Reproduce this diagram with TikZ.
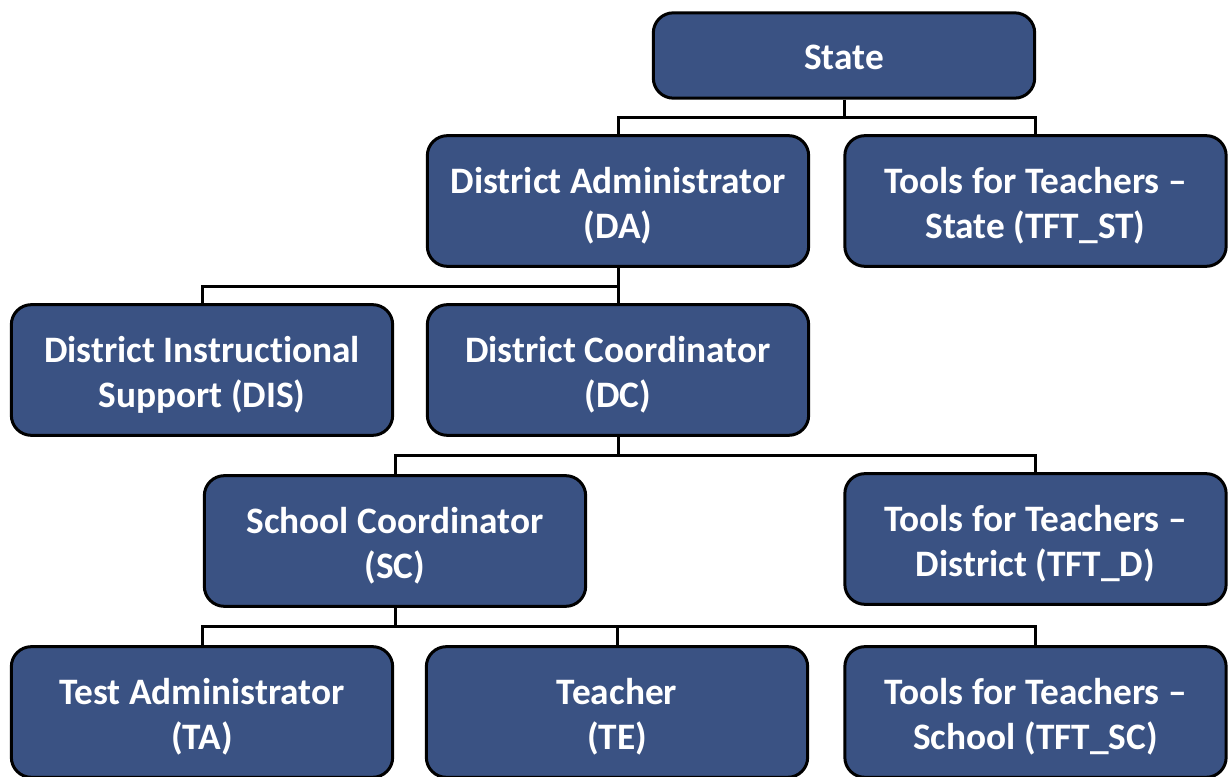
\documentclass[tikz,border=0pt]{standalone}
\usepackage{fontspec}
\setmainfont{Carlito}[Ligatures=NoCommon]
\usetikzlibrary{positioning}

\definecolor{roleblue}{RGB}{58,82,131}

\tikzset{
  rolebox/.style={draw=black, line width=2.25pt, fill=roleblue, rounded corners=15pt,
    minimum width=286pt, minimum height=98pt, align=center, text=white,
    font=\fontsize{28}{33.75}\selectfont\bfseries, inner sep=0pt,
    text height=61pt},
  conn/.style={draw=black, line width=2.25pt}
}

\begin{document}
\begin{tikzpicture}[x=0.75pt,y=0.75pt,yscale=-1,xscale=1]
\useasboundingbox (0,0) rectangle (1228,777);

% Boxes
\node [rolebox, minimum height=64pt, text height=21pt] (state) at (844,55.5) {State};
\node [rolebox] (da) at (618,201) {District Administrator\\(DA)};
\node [rolebox] (tftst) at (1035.5,201) {Tools for Teachers --\\State (TFT\_ST)};
\node [rolebox] (dis) at (202,370) {District Instructional\\Support (DIS)};
\node [rolebox] (dc) at (618,370) {District Coordinator\\(DC)};
\node [rolebox] (sc) at (395,541) {School Coordinator\\(SC)};
\node [rolebox] (tftd) at (1035.5,539) {Tools for Teachers --\\District (TFT\_D)};
\node [rolebox] (ta) at (202,712) {Test Administrator\\(TA)};
\node [rolebox] (te) at (617,712) {Teacher\\(TE)};
\node [rolebox] (tftsc) at (1035.5,712) {Tools for Teachers --\\School (TFT\_SC)};

% Connectors
\draw [conn] (state.south) -- ++(0,18) coordinate (b1);
\draw [conn] (b1) -| (da.north);
\draw [conn] (b1) -| (tftst.north);

\draw [conn] (da.south) -- (dc.north);
\coordinate (b2) at (da.south |- 0,287);
\draw [conn] (b2) -| (dis.north);

\draw [conn] (dc.south) -- ++(0,19) coordinate (b3);
\draw [conn] (b3) -| (sc.north);
\draw [conn] (b3) -| (tftd.north);

\draw [conn] (sc.south) -- ++(0,19) coordinate (b4);
\draw [conn] (b4) -| (ta.north);
\draw [conn] (b4) -| (te.north);
\draw [conn] (b4) -| (tftsc.north);

\end{tikzpicture}
\end{document}
